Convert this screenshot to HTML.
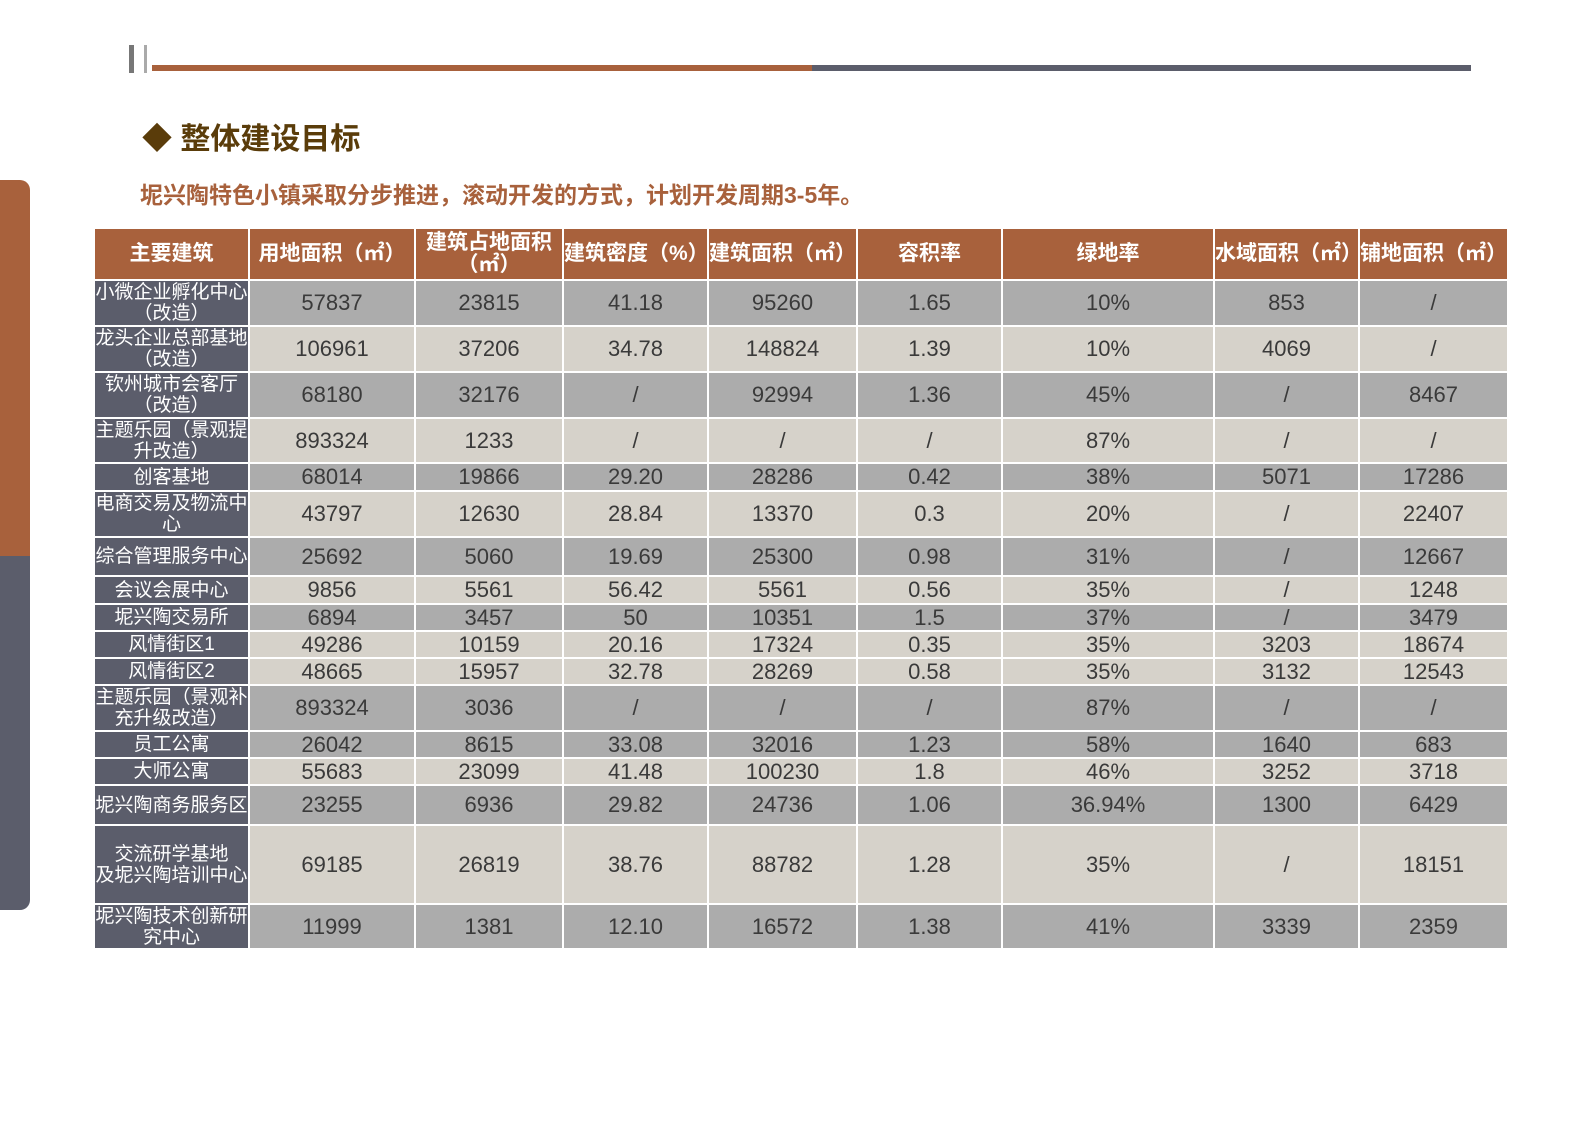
<!DOCTYPE html>
<html><head><meta charset="utf-8"><style>
body{margin:0;width:1587px;height:1122px;background:#fff;position:relative;overflow:hidden;font-family:"Liberation Sans","Noto Sans CJK SC",sans-serif}
.a{position:absolute}
table{position:absolute;left:93px;top:227px;border-collapse:collapse;table-layout:fixed;width:1414px}
td{border:2px solid #fff;padding:0;text-align:center;font-size:22px;color:#3a3a3a;line-height:22px;overflow:hidden;white-space:nowrap}
th{border:2px solid #fff;padding:0;background:#a8613c;color:#fff;font-size:21px;font-weight:bold;line-height:22px;white-space:nowrap;overflow:hidden}
td:first-child{background:#5b5d6b;color:#fff;font-size:19px;line-height:21px}
tr.g td{background:#acacac}
tr.l td{background:#d6d2ca}
tr.g td:first-child,tr.l td:first-child{background:#5b5d6b}
</style></head><body>
<div class="a" style="left:0;top:180px;width:30px;height:376px;background:#a8613c;border-radius:0 10px 0 0"></div>
<div class="a" style="left:0;top:556px;width:30px;height:354px;background:#5b5d6b;border-radius:0 0 10px 0"></div>
<div class="a" style="left:129px;top:45px;width:5px;height:28px;background:#777"></div>
<div class="a" style="left:144px;top:45px;width:3px;height:28px;background:#aaa"></div>
<div class="a" style="left:152px;top:65px;width:660px;height:6px;background:#a8613c"></div>
<div class="a" style="left:812px;top:65px;width:659px;height:6px;background:#5b5d6b"></div>
<div class="a" style="left:142px;top:120px;font-size:30px;font-weight:bold;color:#5a3c0a;line-height:40px">◆ 整体建设目标</div>
<div class="a" style="left:140px;top:180px;font-size:23px;font-weight:bold;color:#a8613c;line-height:30px">坭兴陶特色小镇采取分步推进，滚动开发的方式，计划开发周期3-5年。</div>
<table>
<colgroup><col style="width:155px"><col style="width:166px"><col style="width:148px"><col style="width:145px"><col style="width:149px"><col style="width:145px"><col style="width:212px"><col style="width:145px"><col style="width:149px"></colgroup>
<tr style="height:52px"><th>主要建筑</th><th>用地面积（㎡）</th><th>建筑占地面积<br>（㎡）</th><th>建筑密度（%）</th><th>建筑面积（㎡）</th><th>容积率</th><th>绿地率</th><th>水域面积（㎡）</th><th>铺地面积（㎡）</th></tr>
<tr class="g" style="height:46px"><td>小微企业孵化中心<br>（改造）</td><td>57837</td><td>23815</td><td>41.18</td><td>95260</td><td>1.65</td><td>10%</td><td>853</td><td>/</td></tr>
<tr class="l" style="height:46px"><td>龙头企业总部基地<br>（改造）</td><td>106961</td><td>37206</td><td>34.78</td><td>148824</td><td>1.39</td><td>10%</td><td>4069</td><td>/</td></tr>
<tr class="g" style="height:46px"><td>钦州城市会客厅<br>（改造）</td><td>68180</td><td>32176</td><td>/</td><td>92994</td><td>1.36</td><td>45%</td><td>/</td><td>8467</td></tr>
<tr class="l" style="height:45px"><td>主题乐园（景观提<br>升改造）</td><td>893324</td><td>1233</td><td>/</td><td>/</td><td>/</td><td>87%</td><td>/</td><td>/</td></tr>
<tr class="g" style="height:28px"><td>创客基地</td><td>68014</td><td>19866</td><td>29.20</td><td>28286</td><td>0.42</td><td>38%</td><td>5071</td><td>17286</td></tr>
<tr class="l" style="height:46px"><td>电商交易及物流中<br>心</td><td>43797</td><td>12630</td><td>28.84</td><td>13370</td><td>0.3</td><td>20%</td><td>/</td><td>22407</td></tr>
<tr class="g" style="height:39px"><td>综合管理服务中心</td><td>25692</td><td>5060</td><td>19.69</td><td>25300</td><td>0.98</td><td>31%</td><td>/</td><td>12667</td></tr>
<tr class="l" style="height:28px"><td>会议会展中心</td><td>9856</td><td>5561</td><td>56.42</td><td>5561</td><td>0.56</td><td>35%</td><td>/</td><td>1248</td></tr>
<tr class="g" style="height:27px"><td>坭兴陶交易所</td><td>6894</td><td>3457</td><td>50</td><td>10351</td><td>1.5</td><td>37%</td><td>/</td><td>3479</td></tr>
<tr class="l" style="height:27px"><td>风情街区1</td><td>49286</td><td>10159</td><td>20.16</td><td>17324</td><td>0.35</td><td>35%</td><td>3203</td><td>18674</td></tr>
<tr class="l" style="height:27px"><td>风情街区2</td><td>48665</td><td>15957</td><td>32.78</td><td>28269</td><td>0.58</td><td>35%</td><td>3132</td><td>12543</td></tr>
<tr class="g" style="height:46px"><td>主题乐园（景观补<br>充升级改造）</td><td>893324</td><td>3036</td><td>/</td><td>/</td><td>/</td><td>87%</td><td>/</td><td>/</td></tr>
<tr class="g" style="height:27px"><td>员工公寓</td><td>26042</td><td>8615</td><td>33.08</td><td>32016</td><td>1.23</td><td>58%</td><td>1640</td><td>683</td></tr>
<tr class="l" style="height:27px"><td>大师公寓</td><td>55683</td><td>23099</td><td>41.48</td><td>100230</td><td>1.8</td><td>46%</td><td>3252</td><td>3718</td></tr>
<tr class="g" style="height:40px"><td>坭兴陶商务服务区</td><td>23255</td><td>6936</td><td>29.82</td><td>24736</td><td>1.06</td><td>36.94%</td><td>1300</td><td>6429</td></tr>
<tr class="l" style="height:79px"><td>交流研学基地<br>及坭兴陶培训中心</td><td>69185</td><td>26819</td><td>38.76</td><td>88782</td><td>1.28</td><td>35%</td><td>/</td><td>18151</td></tr>
<tr class="g" style="height:45px"><td>坭兴陶技术创新研<br>究中心</td><td>11999</td><td>1381</td><td>12.10</td><td>16572</td><td>1.38</td><td>41%</td><td>3339</td><td>2359</td></tr>
</table>
</body></html>
